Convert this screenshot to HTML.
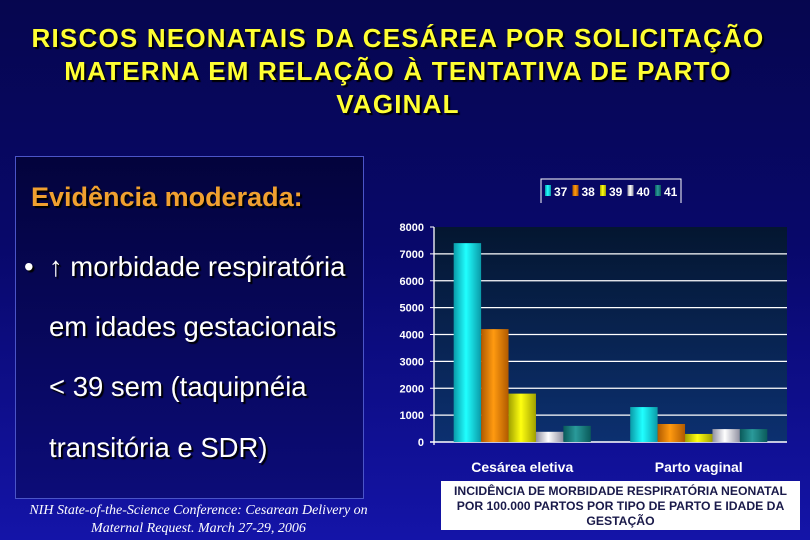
<!DOCTYPE html>
<html><head><meta charset="utf-8"><style>
body{margin:0;width:810px;height:540px;overflow:hidden;background:linear-gradient(#06064f 0%,#08086a 45%,#1414a8 100%);font-family:"Liberation Sans",sans-serif;position:relative}
.title{position:absolute;left:0;top:22px;width:796px;text-align:center;color:#ffff33;font-weight:bold;font-size:26px;letter-spacing:1.2px;line-height:33px;text-shadow:2px 2px 1px #000;white-space:nowrap}
.box{position:absolute;left:15px;top:156px;width:347px;height:341px;border:1px solid #4b55c8;background:linear-gradient(#03033c,#080860 60%,#0c0c78)}
.ev{position:absolute;left:31px;top:182px;color:#f0a030;font-weight:bold;font-size:27px;text-shadow:2px 2px 1px #000;white-space:nowrap}
.bl{position:absolute;color:#fff;font-size:27.5px;text-shadow:2px 2px 1px #000;white-space:nowrap}
.ref{position:absolute;left:15px;top:502px;width:367px;text-align:center;color:#fff;font-family:"Liberation Serif",serif;font-style:italic;font-size:14px;line-height:18px;white-space:nowrap}
.cap{position:absolute;left:441px;top:481px;width:359px;height:49px;background:#fff;color:#1a1a4a;font-weight:bold;font-size:12.2px;line-height:15px;text-align:center;padding-top:3px;box-sizing:border-box;white-space:nowrap}
</style></head><body>
<div class="title">RISCOS NEONATAIS DA CESÁREA POR SOLICITAÇÃO<br>MATERNA EM RELAÇÃO À TENTATIVA DE PARTO<br>VAGINAL</div>
<div class="box"></div>
<div class="ev">Evidência moderada:</div>
<div class="bl" style="left:24px;top:251px">•&nbsp; ↑ morbidade respiratória</div>
<div class="bl" style="left:49px;top:311px">em idades gestacionais</div>
<div class="bl" style="left:49px;top:371px">&lt; 39 sem (taquipnéia</div>
<div class="bl" style="left:49px;top:432px">transitória e SDR)</div>
<div class="ref">NIH State-of-the-Science Conference: Cesarean Delivery on<br>Maternal Request. March 27-29, 2006</div>
<div class="cap">INCIDÊNCIA DE MORBIDADE RESPIRATÓRIA NEONATAL<br>POR 100.000 PARTOS POR TIPO DE PARTO E IDADE DA<br>GESTAÇÃO</div>
<svg id="chart" width="810" height="540" style="position:absolute;left:0;top:0">
<defs>
<linearGradient id="pbg" x1="0" y1="0" x2="0" y2="1"><stop offset="0" stop-color="#041630"/><stop offset="1" stop-color="#0c3070"/></linearGradient>
</defs>
</svg>
<script>
const categories=["Cesárea eletiva","Parto vaginal"];
const seriesNames=["37","38","39","40","41"];
const s37=[7400,1300];
const s38=[4200,670];
const s39=[1800,300];
const s40=[380,480];
const s41=[600,480];
const yTicks=[0,1000,2000,3000,4000,5000,6000,7000,8000];
const seriesVals=[s37,s38,s39,s40,s41];
const colors=[["#0a9aa8","#20ffff","#0a9aa8"],["#b05a00","#ff9a10","#b05a00"],["#a0a000","#ffff10","#a0a000"],["#9090a0","#ffffff","#9090a0"],["#0a5a5a","#2a9a9a","#0a5a5a"]];
const svg=document.getElementById('chart');const NS="http://www.w3.org/2000/svg";
const X0=434,X1=787,Y0=442,Y1=227,YMAX=8000;
const y=v=>Y0-(v/YMAX)*(Y0-Y1);
const catW=(X1-X0)/categories.length;
const barW=catW*0.777/seriesNames.length;
function mk(t,a){const e=document.createElementNS(NS,t);for(const k in a)e.setAttribute(k,a[k]);svg.appendChild(e);return e;}
const defs=svg.querySelector('defs');
colors.forEach((c,i)=>{const g=document.createElementNS(NS,'linearGradient');g.setAttribute('id','g'+i);g.innerHTML=`<stop offset="0" stop-color="${c[0]}"/><stop offset="0.45" stop-color="${c[1]}"/><stop offset="1" stop-color="${c[2]}"/>`;defs.appendChild(g);});
const bg=mk('rect',{x:X0,y:Y1,width:X1-X0,height:Y0-Y1,fill:'url(#pbg)'});


yTicks.forEach(t=>{
 if(t>0&&t<YMAX){const l=mk('line',{x1:X0,x2:X1,y1:y(t),y2:y(t),stroke:'#fff','stroke-width':1.3});
 
 }
 const tx=mk('text',{x:X0-10,y:y(t)+4,'text-anchor':'end',fill:'#fff','font-size':11,'font-weight':'bold','font-family':'Liberation Sans Narrow, Liberation Sans, sans-serif'});tx.textContent=t;
 
 
 const tk=mk('line',{x1:X0-4,x2:X0,y1:y(t),y2:y(t),stroke:'#fff'});
 
 
});
const ax=mk('line',{x1:X0,x2:X0,y1:Y1,y2:Y0+3,stroke:'#fff','stroke-width':1.3});


const bx=mk('line',{x1:X0-4,x2:X1,y1:Y0,y2:Y0,stroke:'#fff','stroke-width':1.5});


categories.forEach((c,ci)=>{
 const cx=X0+catW*(ci+0.5);const gx=cx-barW*seriesNames.length/2;
 seriesVals.forEach((s,si)=>{
  const r=mk('rect',{x:gx+si*barW,y:y(s[ci]),width:barW,height:Y0-y(s[ci]),fill:'url(#g'+si+')'});
  
  
 });
 const t=mk('text',{x:cx,y:472,'text-anchor':'middle',fill:'#fff','font-size':14,'font-weight':'bold','font-family':'Liberation Sans Narrow, Liberation Sans, sans-serif'});t.textContent=c;
 
 
});
const lb=mk('path',{d:'M541,203 V179 H681 V203',fill:'none',stroke:'#fff','stroke-width':1});


seriesNames.forEach((n,i)=>{
 const lx=545+i*27.5;
 const sw=mk('rect',{x:lx,y:185,width:6,height:11,fill:'url(#g'+i+')'});
 
 
 const t=mk('text',{x:lx+9,y:196,fill:'#fff','font-size':12,'font-weight':'bold','font-family':'Liberation Sans Narrow, Liberation Sans, sans-serif'});t.textContent=n;
 
 
});
</script>
</body></html>
